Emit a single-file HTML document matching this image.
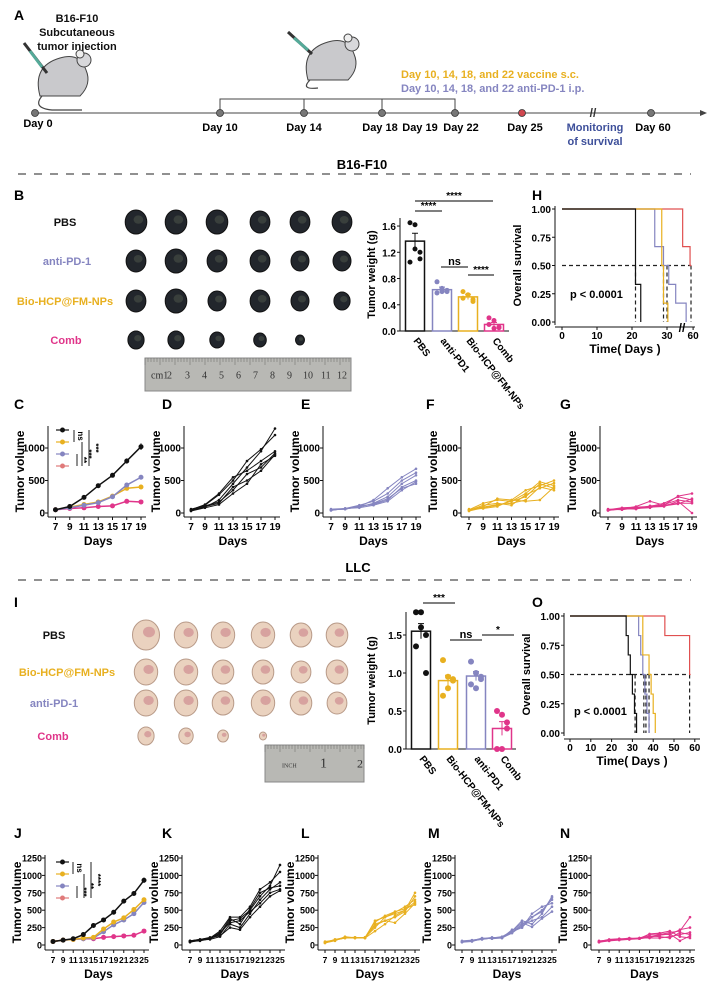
<!DOCTYPE html>
<html><head><meta charset="utf-8">
<style>
html,body{margin:0;padding:0;background:#fff;}
svg{display:block;font-family:"Liberation Sans Narrow","Liberation Sans",sans-serif;font-weight:bold;}
</style></head>
<body>
<svg id="fig" width="715" height="987" viewBox="0 0 715 987" xmlns="http://www.w3.org/2000/svg">
<g>
<text x="14" y="20" font-size="14" font-family="Liberation Sans">A</text>
<text x="77" y="22" font-size="11" text-anchor="middle" fill="#111">B16-F10</text>
<text x="77" y="36" font-size="11" text-anchor="middle" fill="#111">Subcutaneous</text>
<text x="77" y="50" font-size="11" text-anchor="middle" fill="#111">tumor injection</text>
<g transform="translate(62,78)">
<path d="M-22,18 Q-30,-12 -2,-20 Q18,-26 24,-8 Q30,6 18,18 Z" fill="#c9c9cc" stroke="#444" stroke-width="1"/>
<circle cx="22" cy="-18" r="7" fill="#d8d8db" stroke="#444"/>
<circle cx="18" cy="-24" r="4" fill="#eee" stroke="#444"/>
<path d="M-20,18 Q-30,30 -10,32 L20,32" fill="none" stroke="#444" stroke-width="1.2"/>
<line x1="-38" y1="-35" x2="-15" y2="-5" stroke="#333" stroke-width="3"/>
<line x1="-32" y1="-27" x2="-20" y2="-11" stroke="#5a9" stroke-width="3"/>
</g>
<g transform="translate(330,62)">
<path d="M-22,18 Q-30,-12 -2,-20 Q18,-26 24,-8 Q30,6 18,18 Z" fill="#c9c9cc" stroke="#444" stroke-width="1"/>
<circle cx="22" cy="-18" r="7" fill="#d8d8db" stroke="#444"/>
<circle cx="18" cy="-24" r="4" fill="#eee" stroke="#444"/>
<path d="M-20,18 Q-30,28 -12,26" fill="none" stroke="#444" stroke-width="1.2"/>
<line x1="-42" y1="-30" x2="-18" y2="-8" stroke="#333" stroke-width="3"/>
<line x1="-36" y1="-24" x2="-22" y2="-12" stroke="#5a9" stroke-width="3"/>
</g>
<text x="401" y="78" font-size="11" fill="#e8b020">Day 10, 14, 18, and 22 vaccine s.c.</text>
<text x="401" y="92" font-size="11" fill="#8585c0">Day 10, 14, 18, and 22 anti-PD-1 i.p.</text>
<line x1="35" y1="113" x2="700" y2="113" stroke="#444" stroke-width="1"/>
<polygon points="700,110 707,113 700,116" fill="#444"/>
<polyline points="220,113 220,99 455,99 455,113" fill="none" stroke="#444"/>
<line x1="304" y1="99" x2="304" y2="113" stroke="#444"/>
<line x1="382" y1="99" x2="382" y2="113" stroke="#444"/>
<text x="593" y="117" font-size="12" text-anchor="middle" fill="#333">//</text>
<g id="tl"></g>
<text x="595" y="131" font-size="11" text-anchor="middle" fill="#3d4f9a">Monitoring</text>
<text x="595" y="145" font-size="11" text-anchor="middle" fill="#3d4f9a">of survival</text>
</g>
<text x="362" y="169" font-size="13" text-anchor="middle">B16-F10</text>
<line x1="18" y1="174" x2="691" y2="174" stroke="#222" stroke-dasharray="8,8"/>
<text x="358" y="572" font-size="13" text-anchor="middle">LLC</text>
<line x1="18" y1="580" x2="691" y2="580" stroke="#222" stroke-dasharray="8,8"/>
<g id="root"></g>
</svg>
<script>
// ---------- data ----------
const timelineDays=["Day 0","Day 10","Day 14","Day 18","Day 19","Day 22","Day 25","Day 60"];
const groupsB=["PBS","anti-PD1","Bio-HCP@FM-NPs","Comb"];
const weightB=[1.37,0.63,0.52,0.10];
const errB=[0.12,0.04,0.04,0.03];
const dotsB=[[1.65,1.62,1.2,1.05,1.25,1.1],[0.75,0.6,0.62,0.58,0.65,0.6],[0.6,0.55,0.45,0.5,0.55,0.48],[0.2,0.16,0.05,0.1,0.04,0.06]];
const groupsI=["PBS","Bio-HCP@FM-NPs","anti-PD1","Comb"];
const weightI=[1.55,0.9,0.96,0.27];
const errI=[0.1,0.07,0.06,0.09];
const dotsI=[[1.8,1.8,1.5,1.35,1.6,1.0],[1.17,0.95,0.9,0.7,0.8,0.92],[1.15,1.0,0.95,0.85,0.8,0.92],[0.5,0.45,0.27,0.0,0.0,0.35]];
const daysC=[7,9,11,13,15,17,19];
const meanPBS_C=[50,100,240,420,580,800,1020];
const meanBio_C=[50,90,130,170,260,380,400];
const meanAnti_C=[50,80,120,160,250,430,550];
const meanComb_C=[50,70,80,100,110,180,170];
const indD=[[40,90,200,450,700,950,1300],[50,120,280,500,800,980,1200],[40,100,150,400,500,650,900],[50,130,300,550,650,800,950],[60,110,170,350,600,700,920],[30,80,130,300,450,750,880]];
const indE=[[50,60,100,200,380,550,680],[40,70,120,180,300,500,620],[60,70,90,150,250,450,580],[50,60,110,130,200,400,500],[40,70,80,120,180,350,480],[50,60,100,140,220,380,450]];
const indF=[[50,150,200,180,300,480,420],[40,100,220,200,350,420,500],[30,80,120,180,250,450,380],[50,90,130,150,200,400,350],[40,120,150,120,280,380,460],[60,70,100,200,180,200,400]];
const indG=[[40,60,100,180,120,260,300],[50,80,90,100,150,250,200],[40,70,60,110,120,150,150],[60,50,80,90,100,180,0],[50,60,70,80,130,200,170],[40,70,80,100,110,140,220]];
const daysJ=[7,9,11,13,15,17,19,21,23,25];
const meanPBS_J=[50,70,90,150,280,360,470,630,740,930];
const meanBio_J=[50,70,80,100,110,230,330,390,510,650];
const meanAnti_J=[50,70,80,90,100,190,290,360,450,610];
const meanComb_J=[50,70,80,90,90,110,120,130,140,200];
const indK=[[50,70,90,150,350,380,500,700,850,1150],[60,80,100,200,400,400,550,800,900,1050],[40,70,80,120,300,250,450,650,800,900],[50,60,90,180,320,350,480,600,750,800],[60,80,110,130,250,220,400,550,700,780],[50,70,100,160,380,300,520,750,820,850]];
const indL=[[30,80,110,100,100,350,400,450,500,750],[40,70,100,110,100,300,350,400,480,700],[30,60,120,100,110,250,400,470,550,650],[40,80,100,100,100,200,300,420,500,620],[30,70,110,110,100,280,350,320,450,600],[50,70,100,100,110,330,420,480,520,580]];
const indM=[[50,60,90,100,100,200,350,300,450,700],[40,70,80,100,110,180,300,400,500,650],[50,60,100,90,100,220,250,450,550,600],[40,50,90,110,100,170,280,350,400,550],[50,60,80,100,120,200,320,260,380,480],[60,70,90,100,110,190,250,400,480,680]];
const indN=[[50,60,80,80,90,120,150,180,200,400],[40,70,80,90,100,150,160,150,220,250],[50,80,90,90,100,130,120,100,180,150],[60,70,80,100,90,110,140,160,60,130],[40,60,70,80,100,100,100,120,150,180],[50,70,80,90,90,160,170,200,120,100]];
const survH_black=[[0,1],[21,0.333],[22.5,0]];
const survH_anti=[[0,1],[26.5,0.667],[29,0.5],[32,0.333],[40,0.167],[52,0]];
const survH_bio=[[0,1],[28.5,0.5],[29,0.167],[31,0]];
const survH_comb=[[0,1],[48,0.667],[56.5,0.5],[58,0.5]];
const medH=[21,29,30,57.6];
const survO_black=[[0,1],[27,0.833],[28,0.667],[29,0.5],[30,0.333],[31,0.167],[32,0]];
const survO_anti=[[0,1],[33,0.833],[34,0.667],[35,0.5],[36,0.333],[37,0.167],[38,0]];
const survO_bio=[[0,1],[35,0.667],[38,0.5],[39,0.333],[40,0.167],[41,0]];
const survO_comb=[[0,1],[45.6,0.833],[57.5,0.5],[58,0.5]];
const medO=[31.3,35.5,36.5,38,57.5];

const BLK="#111",ORG="#e8b020",PUR="#8585c0",PNK="#e0358a",RED="#e07a7a";
const NS="http://www.w3.org/2000/svg";
const root=document.getElementById('root');
function el(tag,attrs,parent,text){const e=document.createElementNS(NS,tag);for(const k in attrs)e.setAttribute(k,attrs[k]);if(text!==undefined)e.textContent=text;(parent||root).appendChild(e);return e;}
function grp(name){const g=el('g',{});


return g;}

// timeline
(function(){const tl=document.getElementById('tl');
const dotX=[35,220,304,382,null,455,522,651];
const labX=[38,220,304,380,420,461,525,653];
const labY=[127,131,131,131,131,131,131,131];
timelineDays.forEach((d,i)=>{
 if(dotX[i]!==null){const c=el('circle',{cx:dotX[i],cy:113,r:3.5,fill:i===6?'#d0474f':'#777',stroke:'#333','stroke-width':0.8},tl);
 
 }
 const t=el('text',{x:labX[i],y:labY[i],'font-size':11,'text-anchor':'middle'},tl,d);
 
 
});})();

// tumor photos
function tumors(name,labels,colors,rowsY,xs,counts,style,sizes){
 const g=grp(name);
 labels.forEach((l,i)=>{
  const t=el('text',{x:style.labX[i],y:rowsY[i]+4,'font-size':11,'text-anchor':'middle',fill:colors[i]},g,l);
  
  
  for(let j=0;j<counts[i];j++){
   const s=sizes[i][j];
   const e=el('ellipse',{cx:xs[j],cy:rowsY[i],rx:s*0.9,ry:s,fill:style.fill,stroke:style.stroke,'stroke-width':1},g);
   
   
   el('ellipse',{cx:xs[j]+s*0.2,cy:rowsY[i]-s*0.2,rx:s*0.4,ry:s*0.35,fill:style.hi,opacity:0.6},g);
  }
 });
 return g;
}
tumors('b16-tumor-photos',["PBS","anti-PD-1","Bio-HCP@FM-NPs","Comb"],[BLK,PUR,ORG,PNK],[222,261,301,340],[136,176,217,260,300,342],[6,6,6,5],
 {labX:[65,67,65,66],fill:'#22262c',stroke:'#111',hi:'#4a5048'},
 [[12,12,12,11,11,11],[11,12,11,11,10,10],[11,12,10,11,10,9],[9,9,8,7,5]]);
tumors('llc-tumor-photos',["PBS","Bio-HCP@FM-NPs","anti-PD-1","Comb"],[BLK,ORG,PUR,PNK],[635,672,703,736],[146,186,223,263,301,337],[6,6,6,4],
 {labX:[54,67,54,53],fill:'#ead2bf',stroke:'#b89a88',hi:'#c9828a'},
 [[15,13,13,13,12,12],[13,13,12,12,11,12],[13,13,12,13,12,11],[9,8,6,4]]);
// rulers
function ruler(name,x,y,w,h,labels){const g=grp(name);
 el('rect',{x:x,y:y,width:w,height:h,fill:'#b8b8b4',stroke:'#888'},g);
 for(let i=0;i<=w;i+=3){el('line',{x1:x+i,y1:y,x2:x+i,y2:y+(i%15===0?7:4),stroke:'#666','stroke-width':0.5},g);}
 labels.forEach(l=>el('text',{x:x+l[0],y:y+h/2+4,'font-size':l[2]||10,'font-family':'Liberation Serif',fill:'#333','font-weight':'normal'},g,l[1]));
}
ruler('b16-ruler',145,358,206,33,[[6,"cm1"],[22,"2"],[40,"3"],[57,"4"],[74,"5"],[91,"6"],[108,"7"],[125,"8"],[142,"9"],[158,"10"],[176,"11"],[192,"12"]]);
ruler('llc-ruler',265,745,99,37,[[17,"INCH",6],[55,"1",14],[92,"2",12]]);

// bar charts
function barChart(name,o){
 const g=grp(name);
 const y=v=>o.y0-v*o.ppu;
 el('line',{x1:o.ax,y1:o.top,x2:o.ax,y2:o.y0,stroke:'#111','stroke-width':1},g);
 el('line',{x1:o.ax,y1:o.y0,x2:o.xend,y2:o.y0,stroke:'#111','stroke-width':1},g);
 o.ticks.forEach(t=>{el('line',{x1:o.ax-3,y1:y(t),x2:o.ax,y2:y(t),stroke:'#111'},g);
  el('text',{x:o.ax-4,y:y(t)+4,'font-size':10,'text-anchor':'end'},g,t.toFixed(1));});
 const yl=el('text',{x:0,y:0,'font-size':11,'text-anchor':'middle',transform:`translate(${o.ylx},${(o.top+o.y0)/2}) rotate(-90)`,'font-family':'Liberation Sans'},g,'Tumor weight (g)');
 
 
 o.groups.forEach((gname,i)=>{
  const cx=o.cx[i],c=o.colors[i],v=o.vals[i];
  const r=el('rect',{x:cx-o.bw/2,y:y(v),width:o.bw,height:o.y0-y(v),fill:'#fff',stroke:c,'stroke-width':1.5},g);
  
  
  el('line',{x1:cx,y1:y(v-o.err[i]),x2:cx,y2:y(v+o.err[i]),stroke:c},g);
  el('line',{x1:cx-3,y1:y(v+o.err[i]),x2:cx+3,y2:y(v+o.err[i]),stroke:c},g);
  o.dots[i].forEach((d,k)=>{const p=el('circle',{cx:cx-5+(k%3)*5,cy:y(d),r:o.dr,fill:c},g);
   
   });
  const t=el('text',{x:0,y:0,'font-size':10,transform:`translate(${cx-2},${o.y0+10}) rotate(52)`,'font-family':'Liberation Sans'},g,gname);
  
  
 });
 o.sig.forEach(s=>{el('line',{x1:s[0],y1:s[2],x2:s[1],y2:s[2],stroke:'#333','stroke-width':1.2},g);
  el('text',{x:(s[0]+s[1])/2,y:s[2]-2,'font-size':s[3]==='ns'?11:10,'text-anchor':'middle'},g,s[3]);});
}
barChart('b16-tumor-weight-chart',{ax:400,y0:331,ppu:65.6,top:218,xend:509,ticks:[0,0.4,0.8,1.2,1.6],ylx:375,
 groups:groupsB,vals:weightB,err:errB,dots:dotsB,cx:[415,442,468,494],bw:19,colors:[BLK,PUR,ORG,PNK],dr:2.5,
 sig:[[415,493,201,'****'],[415,442,211,'****'],[441,468,267,'ns'],[468,494,275,'****']]});
barChart('llc-tumor-weight-chart',{ax:406,y0:749,ppu:76,top:612,xend:516,ticks:[0,0.5,1.0,1.5],ylx:375,
 groups:groupsI,vals:weightI,err:errI,dots:dotsI,cx:[421,448,476,502],bw:19,colors:[BLK,ORG,PUR,PNK],dr:3,
 sig:[[423,455,603,'***'],[450,482,640,'ns'],[482,514,635,'*']]});

// survival
function survival(name,o){
 const g=grp(name);
 const y=v=>o.y0-v*(o.y0-o.y1);
 el('line',{x1:o.ax,y1:o.y1-3,x2:o.ax,y2:o.y0+3,stroke:'#111'},g);
 el('line',{x1:o.ax,y1:o.xaxY,x2:o.xend,y2:o.xaxY,stroke:'#111'},g);
 [0,0.25,0.5,0.75,1].forEach(t=>{el('line',{x1:o.ax-3,y1:y(t),x2:o.ax,y2:y(t),stroke:'#111'},g);
  el('text',{x:o.ax-4,y:y(t)+4,'font-size':10,'text-anchor':'end'},g,t.toFixed(2));});
 o.xticks.forEach(t=>{el('line',{x1:o.x(t),y1:o.xaxY,x2:o.x(t),y2:o.xaxY+3,stroke:'#111'},g);
  el('text',{x:o.x(t),y:o.xaxY+12,'font-size':10,'text-anchor':'middle'},g,String(t));});
 if(o.brk)el('text',{x:o.brk,y:o.xaxY+5,'font-size':12,'text-anchor':'middle'},g,'//');
 const yl=el('text',{x:0,y:0,'font-size':11,'text-anchor':'middle',transform:`translate(${o.ax-34},${(o.y0+o.y1)/2}) rotate(-90)`,'font-family':'Liberation Sans'},g,'Overall survival');
 
 
 el('text',{x:(o.ax+o.xend)/2,y:o.xaxY+26,'font-size':12,'text-anchor':'middle'},g,'Time( Days )');
 el('text',{x:o.px,y:o.py,'font-size':11,'font-family':'Liberation Sans'},g,'p < 0.0001');
 el('line',{x1:o.x(0),y1:y(0.5),x2:o.x(o.med[o.med.length-1]),y2:y(0.5),stroke:'#222','stroke-dasharray':'4,3','stroke-width':1.2},g);
 o.med.forEach(m=>el('line',{x1:o.x(m),y1:y(0.5),x2:o.x(m),y2:y(0),stroke:'#222','stroke-dasharray':'4,3','stroke-width':1.2},g));
 o.series.forEach(s=>{
  let d='';s.pts.forEach((p,i)=>{const X=o.x(p[0]),Y=y(p[1]);d+= i===0?`M${X},${Y}`:`H${X}V${Y}`;});
  const pth=el('path',{d:d,fill:'none',stroke:s.c,'stroke-width':1.2},g);
  
  
 });
}
survival('b16-survival-chart',{ax:555,xaxY:327,xend:695,y0:322,y1:209,
 x:t=>t<=30?562+3.5*t:667+(t-30)*0.87,xticks:[0,10,20,30,60],brk:682,px:570,py:298,med:medH,
 series:[{pts:survH_comb,c:'#e05050'},{pts:survH_anti,c:PUR},{pts:survH_bio,c:ORG},{pts:survH_black,c:BLK}]});
survival('llc-survival-chart',{ax:564,xaxY:739,xend:700,y0:733,y1:616,
 x:t=>570+2.08*t,xticks:[0,10,20,30,40,50,60],brk:0,px:574,py:715,med:medO,
 series:[{pts:survO_comb,c:'#e05050'},{pts:survO_anti,c:PUR},{pts:survO_bio,c:ORG},{pts:survO_black,c:BLK}]});

// line charts
function lineChart(name,o){
 const g=grp(name);
 const n=o.days.length;
 const x=d=>o.x0+(d-o.days[0])*(o.x1-o.x0)/(o.days[n-1]-o.days[0]);
 const y=v=>o.yz-v*o.ppu;
 el('text',{x:o.lx,y:o.ly,'font-size':14,'font-family':'Liberation Sans'},g,o.letter);
 el('line',{x1:o.ax,y1:o.top,x2:o.ax,y2:o.xaxY,stroke:'#111'},g);
 el('line',{x1:o.ax,y1:o.xaxY,x2:o.x1+5,y2:o.xaxY,stroke:'#111'},g);
 o.yticks.forEach(t=>{el('line',{x1:o.ax-3,y1:y(t),x2:o.ax,y2:y(t),stroke:'#111'},g);
  el('text',{x:o.ax-3,y:y(t)+3.5,'font-size':o.tfs,'text-anchor':'end'},g,String(t));});
 o.days.forEach(d=>{el('line',{x1:x(d),y1:o.xaxY,x2:x(d),y2:o.xaxY+3,stroke:'#111'},g);
  el('text',{x:x(d),y:o.xaxY+13,'font-size':o.xfs,'text-anchor':'middle'},g,String(d));});
 const yl=el('text',{x:0,y:0,'font-size':12,'text-anchor':'middle',transform:`translate(${o.ax-24},${(o.top+o.xaxY)/2}) rotate(-90)`,'font-family':'Liberation Sans'},g,'Tumor volume');
 
 
 el('text',{x:(o.x0+o.x1)/2,y:o.xaxY+28,'font-size':12,'text-anchor':'middle','font-family':'Liberation Sans'},g,'Days');
 o.series.forEach(s=>{
  const pts=s.v.map((v,i)=>x(o.days[i])+','+y(v)).join(' ');
  const pl=el('polyline',{points:pts,fill:'none',stroke:s.c,'stroke-width':s.w||1},g);
  
  
  s.v.forEach((v,i)=>{
   if(s.err){el('line',{x1:x(o.days[i]),y1:y(v-s.err*v),x2:x(o.days[i]),y2:y(v+s.err*v),stroke:s.c},g);}
   const c=el('circle',{cx:x(o.days[i]),cy:y(v),r:s.r||1.5,fill:s.c},g);
   
   
  });
 });
 if(o.legend){
  const lc=o.legend.colors;
  lc.forEach((c,i)=>{const ly=o.legend.y+i*12;
   el('line',{x1:o.legend.x,y1:ly,x2:o.legend.x+13,y2:ly,stroke:c,'stroke-width':1.2},g);
   el('circle',{cx:o.legend.x+6.5,cy:ly,r:2.5,fill:c},g);});
  o.legend.brk.forEach(b=>{el('line',{x1:b[0],y1:b[1],x2:b[0],y2:b[2],stroke:'#222'},g);
   el('text',{x:0,y:0,'font-size':8,'text-anchor':'middle',transform:`translate(${b[0]+4},${(b[1]+b[2])/2}) rotate(90)`},g,b[3]);});
 }
}
const cfgC={yz:513,ppu:0.065,top:426,xaxY:517,yticks:[0,500,1000],tfs:10,xfs:10,ly:409};
function ind(arr,c){return arr.map(v=>({v:v,c:c,r:1.3}));}
lineChart('tumor-growth-c',Object.assign({},cfgC,{letter:'C',lx:14,ax:48,x0:55.5,x1:141,days:daysC,
 series:[{v:meanComb_C,c:PNK,r:2.5,w:1.5,err:0.12},{v:meanBio_C,c:ORG,r:2.5,w:1.5,err:0.05},{v:meanAnti_C,c:PUR,r:2.5,w:1.5,err:0.05},{v:meanPBS_C,c:BLK,r:2.5,w:1.5,err:0.05}],
 legend:{x:56,y:430,colors:[BLK,ORG,PUR,RED],brk:[[74,430,442,'ns'],[77,454,466,'**'],[82,442,466,'***'],[89,430,466,'***']]}}));
lineChart('tumor-growth-d',Object.assign({},cfgC,{letter:'D',lx:162,ax:184,x0:191,x1:275,days:daysC,series:ind(indD,BLK)}));
lineChart('tumor-growth-e',Object.assign({},cfgC,{letter:'E',lx:301,ax:323,x0:331,x1:416,days:daysC,series:ind(indE,PUR)}));
lineChart('tumor-growth-f',Object.assign({},cfgC,{letter:'F',lx:426,ax:461,x0:469,x1:554,days:daysC,series:ind(indF,ORG)}));
lineChart('tumor-growth-g',Object.assign({},cfgC,{letter:'G',lx:560,ax:600,x0:608,x1:692,days:daysC,series:ind(indG,PNK)}));
const cfgJ={yz:945,ppu:0.0696,top:855,xaxY:950,yticks:[0,250,500,750,1000,1250],tfs:9,xfs:8.5,ly:838};
lineChart('tumor-growth-j',Object.assign({},cfgJ,{letter:'J',lx:14,ax:45,x0:53,x1:144,days:daysJ,
 series:[{v:meanComb_J,c:PNK,r:2.5,w:1.5,err:0.1},{v:meanAnti_J,c:PUR,r:2.5,w:1.5,err:0.04},{v:meanBio_J,c:ORG,r:2.5,w:1.5,err:0.04},{v:meanPBS_J,c:BLK,r:2.5,w:1.5,err:0.04}],
 legend:{x:56,y:862,colors:[BLK,ORG,PUR,RED],brk:[[73,862,874,'ns'],[77,886,898,'***'],[84,874,898,'**'],[91,862,898,'****']]}}));
lineChart('tumor-growth-k',Object.assign({},cfgJ,{letter:'K',lx:162,ax:182,x0:190,x1:280,days:daysJ,series:ind(indK,BLK)}));
lineChart('tumor-growth-l',Object.assign({},cfgJ,{letter:'L',lx:301,ax:318,x0:325,x1:415,days:daysJ,series:ind(indL,ORG)}));
lineChart('tumor-growth-m',Object.assign({},cfgJ,{letter:'M',lx:428,ax:455,x0:462,x1:552,days:daysJ,series:ind(indM,PUR)}));
lineChart('tumor-growth-n',Object.assign({},cfgJ,{letter:'N',lx:560,ax:591,x0:599,x1:690,days:daysJ,series:ind(indN,PNK)}));
// panel letters
[['B',14,200],['H',532,200],['I',14,607],['O',532,607]].forEach(p=>{const t=el('text',{x:p[1],y:p[2],'font-size':14,'font-family':'Liberation Sans'},root,p[0]);
 
 });
</script>
</body></html>
